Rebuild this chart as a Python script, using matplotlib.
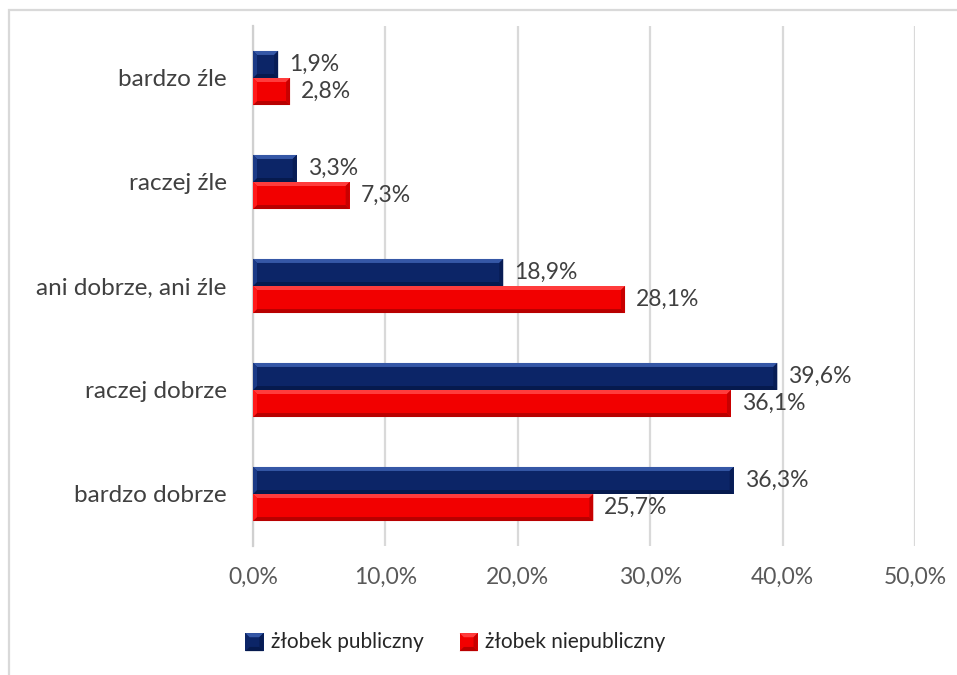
import matplotlib
matplotlib.use("Agg")
import matplotlib.pyplot as plt
from matplotlib.patches import Polygon, Rectangle
from matplotlib.legend_handler import HandlerBase

plt.rcParams['font.family'] = ['Lato', 'DejaVu Sans']

categories = ["bardzo dobrze", "raczej dobrze", "ani dobrze, ani źle", "raczej źle", "bardzo źle"]
publiczny = [36.3, 39.6, 18.9, 3.3, 1.9]
niepubliczny = [25.7, 36.1, 28.1, 7.3, 2.8]
series_names = ["żłobek publiczny", "żłobek niepubliczny"]
xticks = [0, 10, 20, 30, 40, 50]

# body, top highlight, bottom shade, right end, left end
BLUE = dict(body="#0c2567", top="#3557a6", bottom="#061a4e", right="#081d55", left="#1b3a86")
RED = dict(body="#f20000", top="#ff3c3c", bottom="#b80000", right="#c80000", left="#ff1a1a")

FS_CAT = 17.5
FS_NUM = 16.5
FS_LEG = 15
W, H, DPI = 957, 675, 100
fig = plt.figure(figsize=(W / DPI, H / DPI), dpi=DPI)
fig.patch.set_facecolor("white")

# outer chart frame
fig.add_artist(Rectangle((8.5 / W, -0.1), 1.2, 1 - 9.5 / H + 0.1, transform=fig.transFigure,
                         fill=False, edgecolor="#d9d9d9", linewidth=1.6))

left, right, top, bottom = 253, 915, 26, 546
ax = fig.add_axes([left / W, 1 - bottom / H, (right - left) / W, (bottom - top) / H])

bar_h = 0.26
px_per_x = (right - left) / 50.0
px_per_y = (bottom - top) / 5.0
bev = 4.0
bx = bev / px_per_x
by = bev / px_per_y


def bevel_bar(ax, y0, width, height, c):
    x0, x1 = 0.0, width
    y1 = y0 + height
    ax.barh(y0, width, height=height, align="edge", color=c["body"], linewidth=0, zorder=3)
    dx = min(bx, width / 2)
    # upper face
    ax.add_patch(Polygon([(x0, y1), (x1, y1), (x1 - dx, y1 - by), (x0 + dx, y1 - by)],
                         closed=True, facecolor=c["top"], edgecolor="none", zorder=4))
    # lower face
    ax.add_patch(Polygon([(x0, y0), (x1, y0), (x1 - dx, y0 + by), (x0 + dx, y0 + by)],
                         closed=True, facecolor=c["bottom"], edgecolor="none", zorder=4))
    ax.add_patch(Polygon([(x1, y0), (x1, y1), (x1 - dx, y1 - by), (x1 - dx, y0 + by)],
                         closed=True, facecolor=c["right"], edgecolor="none", zorder=4))
    ax.add_patch(Polygon([(x0, y0), (x0, y1), (x0 + dx, y1 - by), (x0 + dx, y0 + by)],
                         closed=True, facecolor=c["left"], edgecolor="none", zorder=4))


def fmt(v):
    return f"{v:.1f}".replace(".", ",") + "%"


label_off = 11 / px_per_x
for i, cat in enumerate(categories):
    # public above the category centre, non-public below
    bevel_bar(ax, i, publiczny[i], bar_h, BLUE)
    bevel_bar(ax, i - bar_h, niepubliczny[i], bar_h, RED)
    ax.text(publiczny[i] + label_off, i + bar_h / 2, fmt(publiczny[i]), va="center", ha="left",
            fontsize=FS_NUM, color="#404040", zorder=5)
    ax.text(niepubliczny[i] + label_off, i - bar_h / 2, fmt(niepubliczny[i]), va="center",
            ha="left", fontsize=FS_NUM, color="#404040", zorder=5)

ax.set_xlim(0, 50)
ax.set_ylim(-0.5, 4.5)
ax.set_yticks(range(len(categories)))
ax.set_yticklabels(categories, fontsize=FS_CAT, color="#404040")
ax.set_xticks(xticks)
ax.set_xticklabels([fmt(t) for t in xticks], fontsize=FS_NUM, color="#595959")
ax.tick_params(axis="both", length=0)
ax.tick_params(axis="y", pad=19)
ax.tick_params(axis="x", pad=15)
ax.grid(axis="x", color="#d9d9d9", linewidth=1.6, zorder=0)
ax.set_axisbelow(True)
for s in ["top", "right", "bottom"]:
    ax.spines[s].set_visible(False)
ax.spines["left"].set_color("#d0d0d0")
ax.spines["left"].set_linewidth(1.6)
ax.spines["left"].set_zorder(2)


class BevelSquare(HandlerBase):
    def __init__(self, c):
        super().__init__()
        self.c = c

    def create_artists(self, legend, orig_handle, xdescent, ydescent, width, height, fontsize, trans):
        s = 13
        x0 = width - s
        y0 = (height - s) / 2 - 1
        c = self.c
        b = 3
        arts = [Rectangle((x0, y0), s, s, facecolor=c["body"], edgecolor="none", transform=trans)]
        arts.append(Polygon([(x0, y0 + s), (x0 + s, y0 + s), (x0 + s - b, y0 + s - b), (x0 + b, y0 + s - b)],
                            facecolor=c["top"], edgecolor="none", transform=trans))
        arts.append(Polygon([(x0, y0), (x0 + s, y0), (x0 + s - b, y0 + b), (x0 + b, y0 + b)],
                            facecolor=c["bottom"], edgecolor="none", transform=trans))
        arts.append(Polygon([(x0 + s, y0), (x0 + s, y0 + s), (x0 + s - b, y0 + s - b), (x0 + s - b, y0 + b)],
                            facecolor=c["right"], edgecolor="none", transform=trans))
        return arts


h1 = Rectangle((0, 0), 1, 1)
h2 = Rectangle((0, 0), 1, 1)
leg = fig.legend([h1, h2], series_names, loc="center", bbox_to_anchor=(455 / W, 1 - 642 / H),
                 ncol=2, frameon=False, fontsize=FS_LEG, handlelength=0.9, handletextpad=0.35,
                 columnspacing=1.7, labelcolor="#262626",
                 handler_map={h1: BevelSquare(BLUE), h2: BevelSquare(RED)})

fig.savefig("out.png", dpi=DPI, facecolor="white")
